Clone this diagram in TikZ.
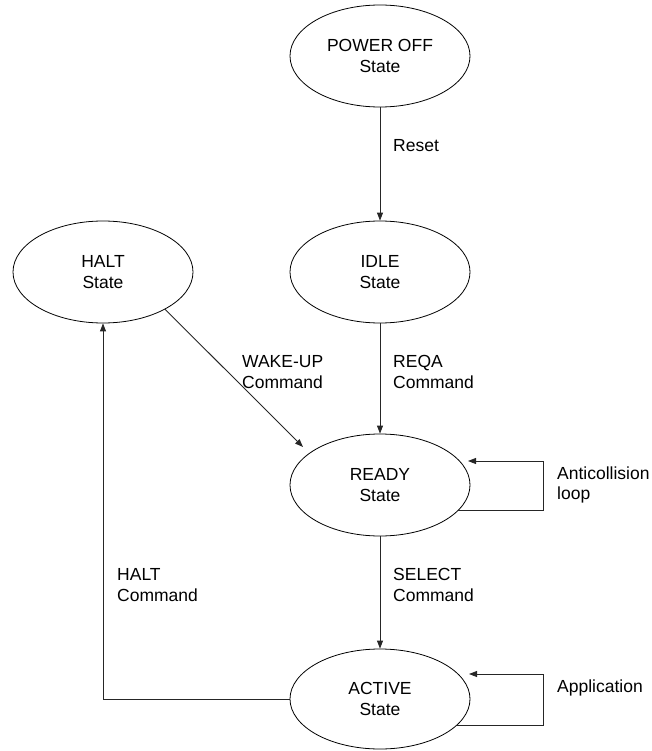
\documentclass[tikz,border=0pt]{standalone}
\usepackage{fontspec}
\setmainfont{Liberation Sans}
\usetikzlibrary{shapes.geometric,arrows.meta}

\tikzset{
  state/.style={ellipse, draw=black, line width=0.8pt, minimum width=180pt,
    minimum height=102pt, inner sep=0pt, align=center,
    font=\fontsize{17.5}{20.5}\selectfont},
  lbl/.style={anchor=west, align=left, inner sep=0pt,
    font=\fontsize{17.5}{20.5}\selectfont},
  arr/.style={draw=black!85, line width=0.9pt,
    -{Triangle[length=8pt,width=6pt]}},
}

\begin{document}
\begin{tikzpicture}[x=1pt,y=-1pt]
\useasboundingbox (0,0) rectangle (651,751);

% states
\node[state] (pwr)    at (380,56)  {POWER OFF\\State};
\node[state] (idle)   at (380,272) {IDLE\\State};
\node[state] (halt)   at (103,272) {HALT\\State};
\node[state] (ready)  at (380,485) {READY\\State};
\node[state, minimum height=100pt] (active) at (380,699) {ACTIVE\\State};

% free ends and corners of the connectors
\coordinate (wakeTip) at (303,447);
\coordinate (acCorner) at (543,461);
\coordinate (acTip) at (468,461);
\coordinate (apCorner) at (543,674);
\coordinate (apTip) at (469,674);

% transitions
\draw[arr] (pwr) -- (idle);
\draw[arr] (idle) -- (ready);
\draw[arr] (ready) -- (active);
\draw[arr] (halt.-31) -- (wakeTip);
\draw[arr] (active.west) -| (halt.south);
\draw[arr] (ready.-18) -| (acCorner) -- (acTip);
\draw[arr] (active.-19) -| (apCorner) -- (apTip);

% transition labels
\node[lbl] (lreset)  at (393,146) {Reset};
\node[lbl] (lreqa)   at (393,372) {REQA\\Command};
\node[lbl] (lwake)   at (242,372) {WAKE-UP\\Command};
\node[lbl] (lanti)   at (557,485) {Anticollision\\loop};
\node[lbl] (lselect) at (393,585) {SELECT\\Command};
\node[lbl] (lhalt)   at (117,585) {HALT\\Command};
\node[lbl] (lapp)    at (557,688) {Application};
\end{tikzpicture}
\end{document}
